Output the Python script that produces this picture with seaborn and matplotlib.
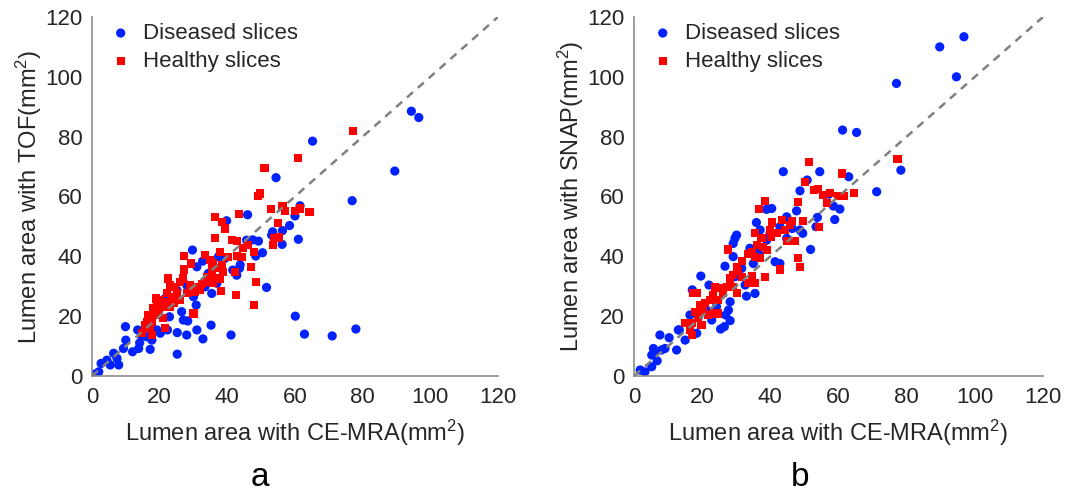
import numpy as np
import pandas as pd
import matplotlib
matplotlib.use("Agg")
import matplotlib.pyplot as plt
import seaborn as sns

# ---------------- data ----------------
# Panel a: CE-MRA vs TOF
a_dis_x = [94.4, 96.6, 89.5, 65.2, 54.4, 76.9, 46.0, 39.8, 61.5, 60.0, 58.4, 56.3, 53.4, 53.1, 61.0,
           56.2, 49.2, 47.5, 50.4, 48.4, 29.7, 43.8, 42.8, 51.6, 60.1, 62.8, 71.0, 78.0, 41.1, 35.2,
           32.8, 31.0, 28.0, 25.2, 25.2, 27.0, 28.3, 26.5, 30.8, 30.0, 32.7, 31.0, 35.4, 22.9, 22.3,
           20.2, 17.2, 17.7, 9.9, 10.0, 12.0, 13.8, 13.5, 14.1, 14.7, 7.9, 6.4, 5.4, 2.7, 2.0,
           1.0, 9.3, 7.4, 4.4, 21.6, 22.1, 41.6, 37.4, 39.3, 34.4, 25.1, 28.0, 33.4, 19.2, 16.2,
           18.2, 43.6, 45.7, 36.9]
a_dis_y = [88.5, 86.4, 68.5, 78.5, 66.3, 58.6, 53.9, 51.9, 56.9, 53.5, 50.3, 48.6, 48.2, 47.1, 45.7,
           44.0, 45.1, 45.5, 41.2, 40.1, 42.1, 37.1, 33.7, 29.6, 20.0, 14.0, 13.4, 15.7, 13.7, 17.0,
           12.4, 15.4, 13.7, 14.5, 7.3, 18.7, 18.4, 21.5, 23.7, 26.5, 38.4, 36.5, 27.6, 19.8, 15.4,
           14.3, 8.9, 12.0, 16.5, 12.0, 8.1, 9.2, 15.4, 11.1, 13.4, 3.7, 7.6, 3.7, 4.2, 1.4,
           0.7, 9.2, 5.9, 5.3, 25.9, 24.3, 35.4, 39.9, 39.3, 34.3, 28.7, 30.4, 29.8, 15.4, 13.1,
           20.9, 36.0, 45.4, 31.0]
a_hea_x = [77.2, 60.8, 51.0, 49.7, 49.2, 56.3, 52.8, 57.0, 60.0, 61.5, 64.3, 43.5, 36.4, 38.3, 39.3,
           55.0, 55.4, 53.9, 53.6, 36.4, 41.5, 42.9, 46.2, 44.7, 47.9, 44.2, 40.3, 42.8, 37.9, 33.4,
           27.3, 29.2, 27.3, 34.9, 35.9, 38.3, 36.9, 38.8, 35.4, 33.9, 37.9, 42.3, 47.0, 48.4, 42.5,
           47.8, 38.2, 30.0, 22.5, 26.1, 27.0, 29.0, 31.0, 31.9, 33.4, 23.1, 24.6, 25.1, 23.6, 22.1,
           21.6, 20.6, 18.9, 18.0, 19.7, 18.7, 16.7, 16.2, 15.7, 17.2, 17.7, 14.7, 21.6, 24.1, 26.1,
           28.0, 30.5, 32.5, 20.2, 23.1, 19.2, 21.1, 17.7, 35.4, 35.9]
a_hea_y = [81.8, 72.9, 69.6, 61.0, 60.2, 56.9, 55.7, 55.2, 55.2, 56.0, 54.9, 54.0, 53.0, 51.6, 49.3,
           51.0, 46.3, 46.2, 43.8, 46.0, 45.4, 45.2, 43.8, 42.7, 41.5, 39.9, 39.9, 40.1, 41.5, 40.4,
           40.1, 37.6, 35.6, 38.8, 37.6, 37.1, 36.0, 34.9, 33.7, 33.2, 32.6, 34.9, 36.5, 31.5, 27.1,
           23.7, 28.4, 20.9, 32.6, 31.5, 32.6, 30.4, 29.8, 28.7, 31.5, 30.4, 29.8, 27.6, 26.5, 27.6,
           24.8, 23.2, 25.9, 22.6, 21.5, 20.4, 20.4, 18.2, 17.0, 15.9, 13.7, 14.3, 15.9, 24.3, 25.4,
           27.6, 28.2, 30.9, 25.4, 23.2, 23.7, 19.3, 18.2, 36.5, 31.0]

# Panel b: CE-MRA vs SNAP
b_dis_x = [96.8, 89.7, 94.6, 77.0, 61.2, 65.3, 78.3, 71.2, 63.0, 54.5, 43.8, 50.8, 48.7, 57.2, 58.5,
           60.4, 58.9, 47.7, 38.9, 40.4, 53.8, 53.4, 48.7, 49.5, 46.4, 44.8, 51.8, 35.9, 30.1, 29.6,
           29.1, 37.0, 42.8, 41.4, 42.8, 34.0, 29.1, 26.7, 19.6, 22.0, 17.1, 33.0, 35.5, 28.2, 27.7,
           26.9, 28.2, 26.5, 25.4, 22.8, 24.2, 16.4, 18.4, 15.0, 13.3, 12.5, 10.3, 7.6, 9.1, 6.8,
           5.7, 5.2, 5.2, 3.2, 1.8, 6.2, 8.1, 13.0, 18.9, 21.3, 32.6, 29.6, 35.0, 31.6, 36.5,
           38.9, 44.8, 39.9]
b_dis_y = [113.4, 110.0, 100.0, 97.8, 82.2, 81.4, 68.8, 61.6, 66.6, 68.3, 68.3, 65.5, 61.9, 60.8, 56.8,
           55.8, 52.3, 55.2, 55.7, 56.0, 53.0, 49.9, 48.8, 47.7, 49.3, 46.0, 42.3, 51.3, 47.1, 46.0,
           44.3, 48.8, 49.9, 38.2, 37.6, 42.7, 39.9, 36.7, 33.4, 30.4, 28.8, 26.7, 27.6, 24.8, 22.0,
           20.4, 18.5, 16.5, 15.7, 18.7, 23.2, 20.4, 14.3, 12.0, 15.4, 8.7, 12.8, 13.7, 9.2, 5.1,
           9.2, 7.0, 3.1, 1.4, 2.0, 7.8, 8.7, 15.4, 19.8, 22.0, 30.4, 33.2, 37.6, 36.0, 41.0,
           45.4, 53.2, 47.7]
b_hea_x = [77.3, 51.3, 50.2, 61.1, 52.9, 54.1, 55.5, 57.5, 59.9, 61.7, 64.6, 56.5, 48.0, 38.4, 36.6,
           49.5, 54.3, 43.5, 46.4, 44.3, 41.8, 40.1, 44.8, 47.2, 39.9, 35.5, 37.4, 36.2, 34.5, 33.5,
           37.9, 38.9, 36.9, 35.5, 48.0, 48.7, 42.8, 38.4, 34.5, 35.5, 33.5, 27.5, 31.6, 30.1, 29.1,
           28.2, 30.6, 31.6, 30.1, 29.1, 25.2, 26.2, 23.8, 23.3, 22.3, 24.7, 20.8, 19.4, 18.4, 17.4,
           20.3, 23.3, 24.7, 17.9, 18.9, 19.8, 16.9, 14.9, 16.4, 16.9, 21.8, 27.2, 28.2, 40.4, 45.8]
b_hea_y = [72.5, 71.6, 64.7, 67.7, 62.1, 62.5, 60.5, 61.2, 60.1, 60.1, 61.2, 57.7, 58.2, 58.6, 55.7,
           51.9, 49.7, 52.1, 51.9, 48.8, 47.7, 46.5, 45.2, 45.2, 48.8, 47.7, 46.0, 43.8, 41.5, 40.8,
           43.2, 42.1, 39.3, 39.9, 39.3, 36.3, 35.6, 33.0, 33.4, 31.2, 31.2, 42.3, 38.5, 36.5, 33.7,
           32.6, 35.0, 33.2, 27.6, 29.8, 29.3, 27.6, 29.8, 27.1, 25.4, 25.4, 24.3, 23.7, 27.6, 27.6,
           22.0, 20.9, 20.9, 21.5, 19.3, 17.0, 17.6, 17.8, 15.4, 13.7, 20.4, 29.8, 31.5, 51.3, 50.4]

group_names = ["Diseased slices", "Healthy slices"]
x_label = "Lumen area with CE-MRA(mm$^2$)"
y_labels = ["Lumen area with TOF(mm$^2$)", "Lumen area with SNAP(mm$^2$)"]
panel_letters = ["a", "b"]
ticks = [0, 20, 40, 60, 80, 100, 120]


def make_df(dx, dy, hx, hy):
    return pd.DataFrame({
        "x": list(dx) + list(hx),
        "y": list(dy) + list(hy),
        "Slice": [group_names[0]] * len(dx) + [group_names[1]] * len(hx),
    })


dfs = [make_df(a_dis_x, a_dis_y, a_hea_x, a_hea_y),
       make_df(b_dis_x, b_dis_y, b_hea_x, b_hea_y)]

# ---------------- style ----------------
sns.set_theme(style="white")
plt.rcParams["font.family"] = ["Liberation Sans", "DejaVu Sans"]
plt.rcParams["mathtext.default"] = "regular"
text_color = "#262626"
spine_color = "#8c8c8c"

fig = plt.figure(figsize=(10.67, 4.91), dpi=100)
ax_positions = [[0.0862, 0.2342, 0.3805, 0.7312],
                [0.5942, 0.2342, 0.3833, 0.7312]]
letter_x = [260 / 1067, 800 / 1067]

palette = {group_names[0]: "#0022ff", group_names[1]: "#ff0000"}
markers = {group_names[0]: "o", group_names[1]: "s"}
sizes = {group_names[0]: 44, group_names[1]: 34}

for i, df in enumerate(dfs):
    ax = fig.add_axes(ax_positions[i])
    ax.plot([0, 120], [0, 120], ls=(0, (3.2, 2.6)), color="#808080", lw=1.8, zorder=3)
    for g in group_names:
        sub = df[df["Slice"] == g]
        sns.scatterplot(data=sub, x="x", y="y", color=palette[g], marker=markers[g],
                        s=sizes[g], edgecolor="none", linewidth=0, ax=ax, label=g, zorder=2)
    ax.set_xlim(0, 120)
    ax.set_ylim(0, 120)
    ax.set_xticks(ticks)
    ax.set_yticks(ticks)
    ax.tick_params(direction="in", length=4, width=1, color=spine_color,
                   labelsize=16, labelcolor=text_color)
    ax.tick_params(axis="x", pad=8)
    ax.tick_params(axis="y", pad=7)
    for side in ["top", "right"]:
        ax.spines[side].set_visible(False)
    for side in ["left", "bottom"]:
        ax.spines[side].set_color(spine_color)
        ax.spines[side].set_linewidth(1.2)
    ax.set_xlabel(x_label, fontsize=17, color=text_color, labelpad=7)
    ax.set_ylabel(y_labels[i], fontsize=17, color=text_color, labelpad=1)
    leg = ax.legend(loc="upper left", frameon=False, fontsize=16, handlelength=0.8,
                    handletextpad=0.6, borderaxespad=0.3, labelspacing=0.3,
                    bbox_to_anchor=(0.0105, 1.027))
    for t in leg.get_texts():
        t.set_color(text_color)
    fig.text(letter_x[i], 0.028, panel_letters[i], fontsize=24, ha="center", va="center",
             color="black")

fig.savefig("out.png", dpi=100)
